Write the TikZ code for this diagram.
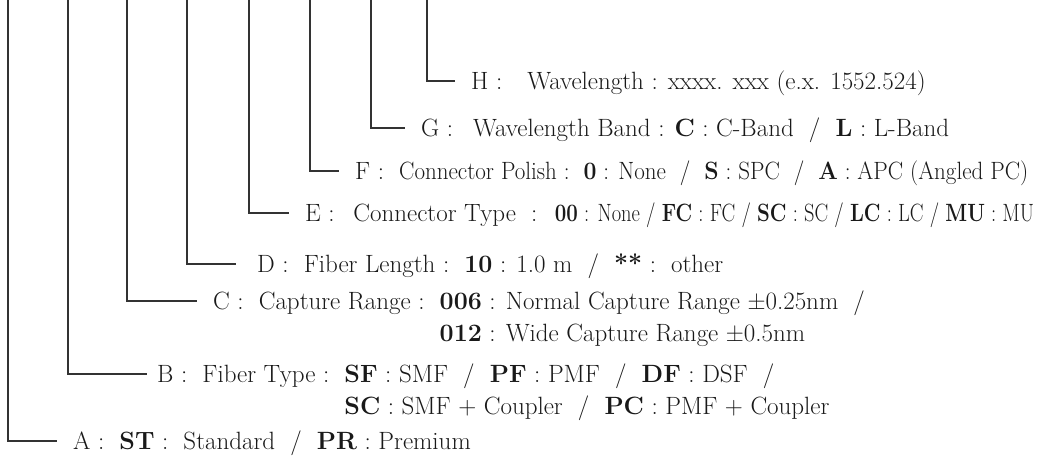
\documentclass[tikz,border=0pt]{standalone}
\usepackage{fontspec}
\usepackage{graphicx}
\newcommand{\cnd}[2][0.82]{\scalebox{#1}[1]{#2}}
\begin{document}
\begin{tikzpicture}[x=1pt,y=-1pt,
  conn/.style={draw=black!80, line width=1.2pt},
  lbl/.style={anchor=west, inner xsep=#1, inner ysep=0pt, text height=17.8pt, text depth=0pt,
              font=\fontsize{25}{32}\selectfont, text=black!90},
  lbl/.default=16pt]
\useasboundingbox (0,0) rectangle (1054,455);
% top ends of the leader lines
\coordinate (tA) at (8,0);
\coordinate (tB) at (68,0);
\coordinate (tC) at (127,0);
\coordinate (tD) at (187,0);
\coordinate (tE) at (249,0);
\coordinate (tF) at (310,0);
\coordinate (tG) at (371,0);
\coordinate (tH) at (427,0);
% labels
\node[lbl] (H) at (455,81) {H :\quad Wavelength : xxxx. xxx (e.x. 1552.524)};
\node[lbl] (G) at (405,128) {G :\hspace{0.8em}Wavelength Band : \textbf{C} : C-Band \ / \ \textbf{L} : L-Band};
\node[lbl] (F) at (339,171) {F :\ \ \cnd[0.92]{Connector Polish :\ \ \textbf{0} : None \ / \ \textbf{S} : SPC \ / \ \textbf{A} : APC (Angled PC)}};
\node[lbl] (E) at (289,213) {E :\hspace{0.75em}Connector Type \ : \ \cnd{\textbf{00} : None / \textbf{FC} : FC / \textbf{SC} : SC / \textbf{LC} : LC / \textbf{MU} : MU}};
\node[lbl=21pt] (D) at (236,264) {D :\ \ Fiber Length :\ \ \textbf{10} : 1.0 m \ / \ \textbf{**} :\ \ other};
\node[lbl] (C) at (197,301) {C :\ \ Capture Range :\ \ \begin{tabular}[t]{@{}l@{}}\textbf{006} : Normal Capture Range ±0.25nm \ /\\ \textbf{012} : Wide Capture Range ±0.5nm\end{tabular}};
\node[lbl=10pt] (B) at (147,374) {B :\ \ Fiber Type :\ \ \begin{tabular}[t]{@{}l@{}}\textbf{SF} : SMF \ / \ \textbf{PF} : PMF \ / \ \textbf{DF} : DSF \ /\\ \textbf{SC} : SMF + Coupler \ / \ \textbf{PC} : PMF + Coupler\end{tabular}};
\node[lbl] (A) at (57,441) {A :\ \ \textbf{ST} :\ \ Standard \ / \ \textbf{PR} : Premium};
% leader lines
\foreach \k in {A,B,C,D,E,F,G,H} \draw[conn] (t\k) |- (\k.west);
\end{tikzpicture}
\end{document}
